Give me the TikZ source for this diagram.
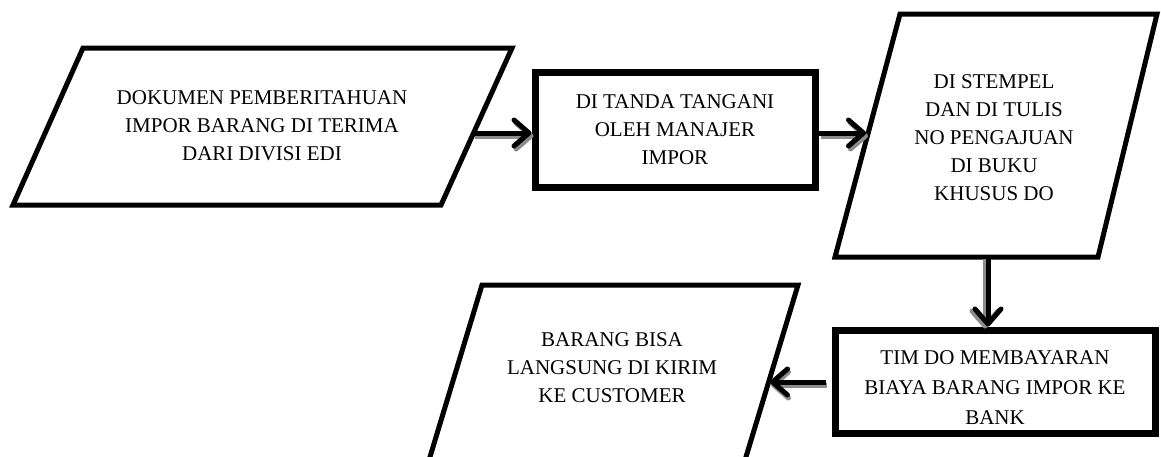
\documentclass[tikz,border=0pt]{standalone}
\usepackage{fontspec}
\setmainfont{Liberation Serif}
\usetikzlibrary{arrows.meta}
\begin{document}
\begin{tikzpicture}[x=1pt,y=-1pt,
  para/.style={draw=black,line width=5pt,line join=miter,fill=white},
  procbox/.style={draw=black,line width=7pt,fill=white,align=center,
    font=\fontsize{21}{28}\selectfont},
  txt/.style={align=center,font=\fontsize{21}{28}\selectfont,inner sep=0pt},
  flow/.style={draw=black,line width=5pt,
    -{Straight Barb[length=15pt,width=26pt,line cap=round,line join=round]}},
  flowshadow/.style={flow,draw=black!45}
]
\useasboundingbox (0,0) rectangle (1161,456);
\clip (0,0) rectangle (1161,456);
\fill[white] (0,0) rectangle (1161,456);

% input: notification document
\coordinate (p1a) at (83,48);
\coordinate (p1b) at (512,48);
\coordinate (p1c) at (441,205);
\coordinate (p1d) at (13,205);
\draw[para] (p1a) -- (p1b) -- (p1c) -- (p1d) -- cycle;
\node[txt] (t1) at (262,126) {DOKUMEN PEMBERITAHUAN\\IMPOR BARANG DI TERIMA\\DARI DIVISI EDI};

% signing by the import manager
\node[procbox,minimum width=280pt,minimum height=115pt] (r2) at (675,129.5)
  {DI TANDA TANGANI\\OLEH MANAJER\\IMPOR};

% stamped and recorded
\coordinate (p3a) at (900,14);
\coordinate (p3b) at (1157,14);
\coordinate (p3c) at (1098,257);
\coordinate (p3d) at (835,257);
\draw[para] (p3a) -- (p3b) -- (p3c) -- (p3d) -- cycle;
\node[txt] (t3) at (994,138) {DI STEMPEL\\DAN DI TULIS\\NO PENGAJUAN\\DI BUKU\\KHUSUS DO};

% payment to the bank
\node[procbox,minimum width=320pt,minimum height=103pt] (r4) at (995,381.5) {};
\node[txt,font=\fontsize{21}{30}\selectfont] (t4) at (995,388)
  {TIM DO MEMBAYARAN\\BIAYA BARANG IMPOR KE\\BANK};

% output: goods ready to ship
\coordinate (p5a) at (482,285);
\coordinate (p5b) at (798,285);
\coordinate (p5c) at (739,480);
\coordinate (p5d) at (423,480);
\draw[para] (p5a) -- (p5b) -- (p5c) -- (p5d) -- cycle;
\node[txt] (t5) at (612,368) {BARANG BISA\\LANGSUNG DI KIRIM\\KE CUSTOMER};

% connector end points on the slanted edges
\coordinate (a1s) at (473,133);
\coordinate (a2e) at (866,133);
\coordinate (a3s) at (988,257);
\coordinate (a4e) at (770,382);

% drop shadows under the connectors
\begin{scope}[transform canvas={xshift=2pt,yshift=-3pt}]
  \draw[flowshadow] (a1s) -- (a1s -| r2.west);
  \draw[flowshadow] (a2e -| r2.east) -- (a2e);
\end{scope}
\begin{scope}[transform canvas={xshift=-3pt,yshift=-2pt}]
  \draw[flowshadow] (a3s) -- (a3s |- r4.north);
\end{scope}
\begin{scope}[transform canvas={xshift=1pt,yshift=-3pt}]
  \draw[flowshadow,shorten <=6pt] (a4e -| r4.west) -- (a4e);
\end{scope}

% connectors
\draw[flow] (a1s) -- (a1s -| r2.west);
\draw[flow] (a2e -| r2.east) -- (a2e);
\draw[flow] (a3s) -- (a3s |- r4.north);
\draw[flow,shorten <=6pt] (a4e -| r4.west) -- (a4e);
\end{tikzpicture}
\end{document}
